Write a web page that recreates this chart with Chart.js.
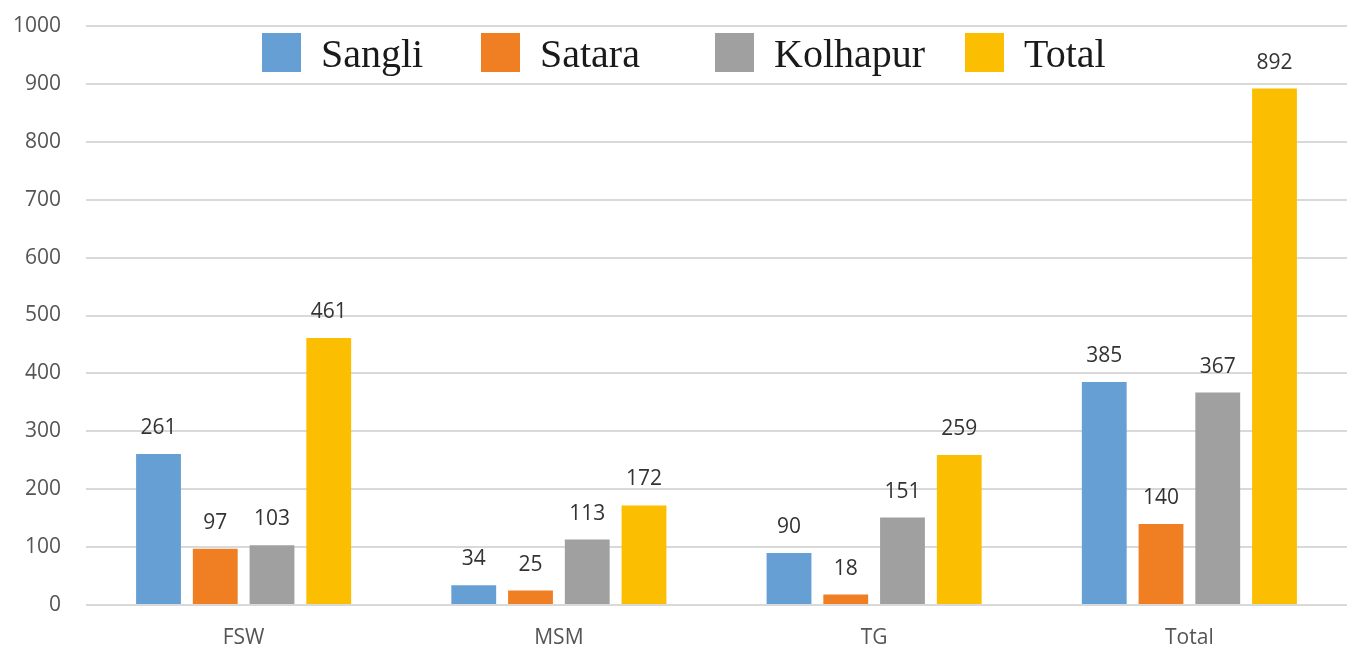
<!DOCTYPE html>
<html>
<head>
<meta charset="utf-8">
<script src="https://cdn.jsdelivr.net/npm/chart.js@4/dist/chart.umd.min.js"></script>
<style>
html,body{margin:0;padding:0;background:#fff;}
#wrap{width:1353px;height:648px;}
</style>
</head>
<body>
<div id="wrap"><canvas id="c" width="1353" height="648"></canvas></div>
<script>
const categories = ["FSW", "MSM", "TG", "Total"];
const sangli   = [261, 34, 90, 385];
const satara   = [97, 25, 18, 140];
const kolhapur = [103, 113, 151, 367];
const total    = [461, 172, 259, 892];
const seriesNames = ["Sangli", "Satara", "Kolhapur", "Total"];
const yTicks = [0, 100, 200, 300, 400, 500, 600, 700, 800, 900, 1000];

const colors = ["#669fd4", "#f07f24", "#a0a0a0", "#fbbe00"];
const seriesData = [sangli, satara, kolhapur, total];

const labelPlugin = {
  id: "valueLabels",
  afterDatasetsDraw(chart) {
    const ctx = chart.ctx;
    ctx.save();
    ctx.font = "21px 'Open Sans'";
    ctx.fillStyle = "#333333";
    ctx.textAlign = "center";
    ctx.textBaseline = "alphabetic";
    chart.data.datasets.forEach((ds, i) => {
      const meta = chart.getDatasetMeta(i);
      meta.data.forEach((bar, j) => {
        ctx.fillText(String(ds.data[j]), bar.x, bar.y - 20);
      });
    });
    ctx.restore();
  }
};

const legendPlugin = {
  id: "customLegend",
  afterDraw(chart) {
    const ctx = chart.ctx;
    const starts = [262, 481, 715, 965];
    ctx.save();
    ctx.font = "40px 'Liberation Serif'";
    ctx.textBaseline = "alphabetic";
    ctx.textAlign = "left";
    chart.data.datasets.forEach((ds, i) => {
      const x = starts[i];
      ctx.fillStyle = ds.backgroundColor;
      ctx.fillRect(x, 33, 39, 39);
      ctx.fillStyle = "#1a1a1a";
      ctx.fillText(ds.label, x + 59, 67);
    });
    ctx.restore();
  }
};

new Chart(document.getElementById("c"), {
  type: "bar",
  data: {
    labels: categories,
    datasets: seriesData.map((d, i) => ({
      label: seriesNames[i],
      data: d,
      backgroundColor: colors[i],
      borderWidth: 0,
      categoryPercentage: 0.72,
      barPercentage: 0.79
    }))
  },
  options: {
    responsive: false,
    animation: false,
    layout: { padding: { top: 26, right: 6, bottom: 0, left: 0 } },
    plugins: {
      legend: { display: false },
      tooltip: { enabled: false }
    },
    scales: {
      x: {
        grid: { display: false, drawTicks: false },
        border: { display: false },
        ticks: {
          padding: 20,
          color: "#555555",
          font: { family: "'Open Sans'", size: 21 }
        },
        afterFit(scale) { scale.height = 43; }
      },
      y: {
        min: 0,
        max: 1000,
        afterBuildTicks(scale) { scale.ticks = yTicks.map(v => ({ value: v })); },
        grid: { color: "#d9d9d9", lineWidth: 2, drawTicks: false },
        border: { display: false },
        ticks: {
          padding: 25,
          color: "#555555",
          font: { family: "'Open Sans'", size: 21 },
          callback: (v) => String(v)
        },
        afterFit(scale) {
          scale.width = 86;
          scale.paddingTop = 0;
          scale.paddingBottom = 0;
        }
      }
    }
  },
  plugins: [labelPlugin, legendPlugin]
});
</script>
</body>
</html>
